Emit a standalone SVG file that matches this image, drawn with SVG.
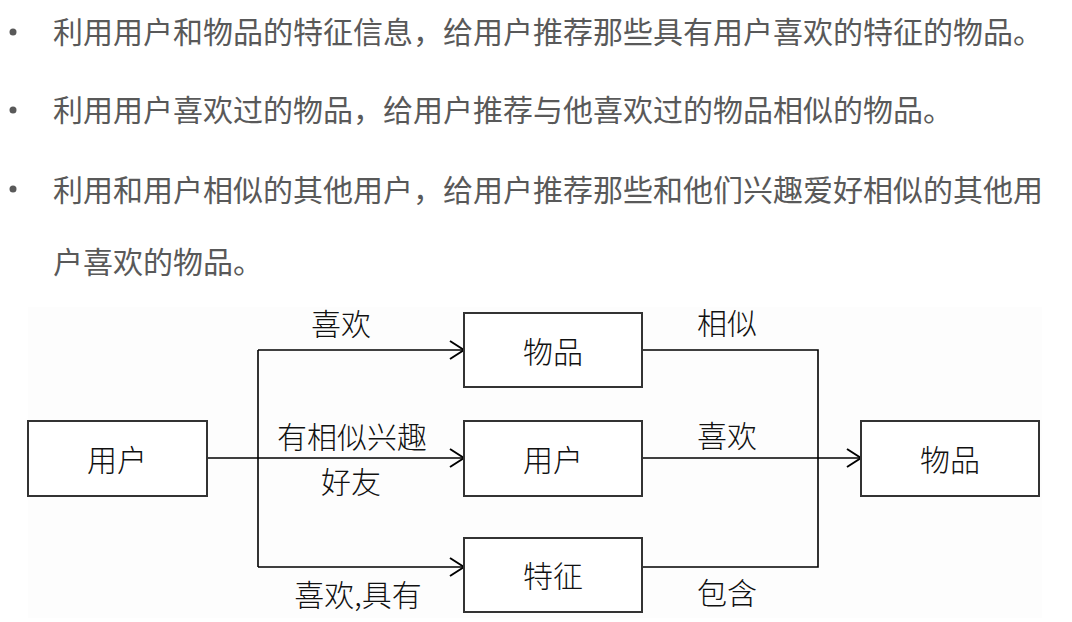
<svg xmlns="http://www.w3.org/2000/svg" width="1072" height="622" viewBox="0 0 1072 622">
  <defs>
    <marker id="arr" markerWidth="16" markerHeight="20" refX="15" refY="10" orient="auto" markerUnits="userSpaceOnUse">
      <path d="M1,1 L15,10 L1,19" fill="none" stroke="#000" stroke-width="2"/>
    </marker>
    <style>
      .bul { font-family: "Noto Sans CJK SC", "Noto Sans", sans-serif; font-size: 30px; fill: #595959; }
      .box { fill: #fff; stroke: #333; stroke-width: 2; }
      .lbl { font-family: "Noto Sans CJK SC", sans-serif; font-size: 30px; fill: #111; text-anchor: middle; dominant-baseline: central; font-weight: 300; }
      .ln { fill: none; stroke: #000; stroke-width: 1.6; }
    </style>
  </defs>
  <rect width="1072" height="622" fill="#fff"/>
  <g id="bullets">
    <circle cx="13" cy="32" r="3.5" fill="#595959"/>
    <text class="bul" x="53" y="43">利用用户和物品的特征信息，给用户推荐那些具有用户喜欢的特征的物品。</text>
    <circle cx="13" cy="110" r="3.5" fill="#595959"/>
    <text class="bul" x="53" y="121">利用用户喜欢过的物品，给用户推荐与他喜欢过的物品相似的物品。</text>
    <circle cx="13" cy="189" r="3.5" fill="#595959"/>
    <text class="bul" x="53" y="201">利用和用户相似的其他用户，给用户推荐那些和他们兴趣爱好相似的其他用</text>
    <text class="bul" x="53" y="273">户喜欢的物品。</text>
  </g>
  <rect x="28" y="307" width="1014" height="311" fill="#fdfdfd"/>
  <g id="connectors">
    <line class="ln" x1="207" y1="458" x2="464" y2="458" marker-end="url(#arr)"/>
    <line class="ln" x1="258" y1="350" x2="258" y2="567"/>
    <line class="ln" x1="258" y1="350" x2="464" y2="350" marker-end="url(#arr)"/>
    <line class="ln" x1="258" y1="567" x2="464" y2="567" marker-end="url(#arr)"/>
    <polyline class="ln" points="642,350 818,350 818,567 642,567"/>
    <line class="ln" x1="642" y1="458" x2="861" y2="458" marker-end="url(#arr)"/>
    <text class="lbl" x="341" y="322">喜欢</text>
    <text class="lbl" x="352" y="435">有相似兴趣</text>
    <text class="lbl" x="351" y="480">好友</text>
    <text class="lbl" x="358" y="593">喜欢,具有</text>
    <text class="lbl" x="727" y="321">相似</text>
    <text class="lbl" x="727" y="434">喜欢</text>
    <text class="lbl" x="727" y="591">包含</text>
  </g>
  <g id="n-user">
    <rect class="box" x="28" y="421" width="179" height="75"/>
    <text class="lbl" x="117" y="458">用户</text>
  </g>
  <g id="n-item-top">
    <rect class="box" x="464" y="313" width="178" height="74"/>
    <text class="lbl" x="553" y="350">物品</text>
  </g>
  <g id="n-user-mid">
    <rect class="box" x="464" y="421" width="178" height="75"/>
    <text class="lbl" x="553" y="458">用户</text>
  </g>
  <g id="n-feature">
    <rect class="box" x="464" y="538" width="178" height="74"/>
    <text class="lbl" x="553" y="574">特征</text>
  </g>
  <g id="n-item-right">
    <rect class="box" x="861" y="421" width="178" height="75"/>
    <text class="lbl" x="950" y="458">物品</text>
  </g>
</svg>
